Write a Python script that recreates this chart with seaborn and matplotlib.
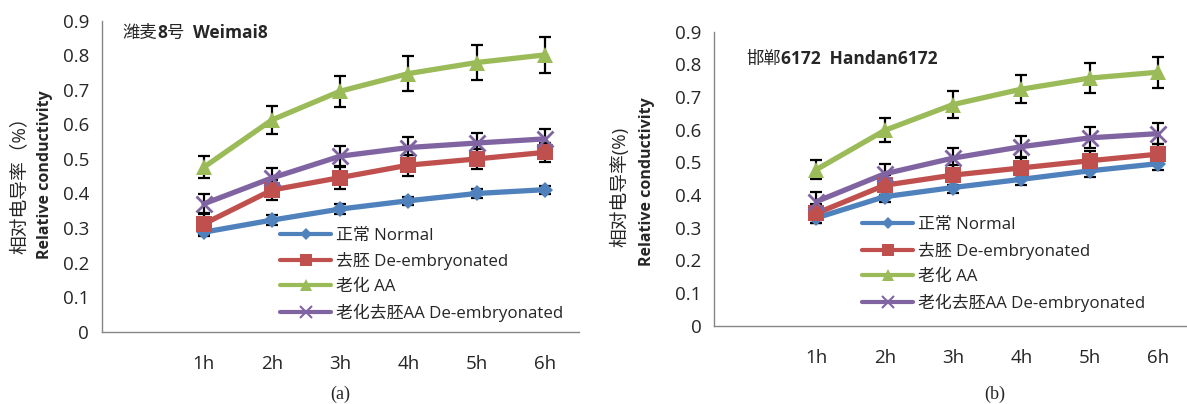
import numpy as np
import pandas as pd
import matplotlib
matplotlib.use("Agg")
import matplotlib.pyplot as plt
import seaborn as sns
from matplotlib.offsetbox import TextArea, HPacker, AnchoredOffsetbox

# --- data ---
hours = ["1h", "2h", "3h", "4h", "5h", "6h"]
series = ["正常 Normal", "去胚 De-embryonated", "老化 AA", "老化去胚AA De-embryonated"]

normal_a = [0.288, 0.323, 0.355, 0.379, 0.400, 0.411]
deemb_a = [0.312, 0.410, 0.446, 0.482, 0.500, 0.519]
aa_a = [0.476, 0.613, 0.696, 0.747, 0.779, 0.801]
aade_a = [0.370, 0.445, 0.508, 0.533, 0.546, 0.558]
err_normal_a = [0.012, 0.014, 0.014, 0.012, 0.012, 0.012]
err_deemb_a = [0.032, 0.030, 0.032, 0.030, 0.028, 0.028]
err_aa_a = [0.032, 0.040, 0.045, 0.050, 0.050, 0.052]
err_aade_a = [0.028, 0.028, 0.029, 0.030, 0.030, 0.030]

normal_b = [0.330, 0.395, 0.423, 0.448, 0.474, 0.496]
deemb_b = [0.344, 0.430, 0.461, 0.483, 0.505, 0.525]
aa_b = [0.478, 0.598, 0.677, 0.724, 0.758, 0.776]
aade_b = [0.380, 0.465, 0.513, 0.548, 0.575, 0.588]
err_normal_b = [0.015, 0.015, 0.018, 0.018, 0.020, 0.020]
err_deemb_b = [0.030, 0.030, 0.030, 0.030, 0.030, 0.030]
err_aa_b = [0.030, 0.037, 0.041, 0.043, 0.046, 0.048]
err_aade_b = [0.030, 0.030, 0.032, 0.033, 0.032, 0.033]

colors = ["#4F81BD", "#C0504D", "#9BBB59", "#8064A2"]
markers = ["D", "s", "^", "x"]
msizes = [8, 11, 12, 11]

CJK = ["Open Sans", "Noto Sans CJK SC", "DejaVu Sans"]

sns.set_style("white")
plt.rcParams["font.family"] = CJK


def long_df(vals, errs):
    rows = []
    for name, v, e in zip(series, vals, errs):
        for i, h in enumerate(hours):
            rows.append({"series": name, "pos": i + 1, "hour": h, "value": v[i], "err": e[i]})
    return pd.DataFrame(rows)


def draw_panel(ax, df, leg_anchor):
    # error bars behind the lines
    for name in series:
        d = df[df["series"] == name]
        ax.errorbar(d["pos"], d["value"], yerr=d["err"], fmt="none", ecolor="black",
                    elinewidth=1.6, capsize=4.5, capthick=1.6, zorder=1)
    sns.lineplot(data=df, x="pos", y="value", hue="series", hue_order=series,
                 palette=colors, ax=ax, legend=False, linewidth=3.8, zorder=2)
    for name, c, m, ms in zip(series, colors, markers, msizes):
        d = df[df["series"] == name]
        ax.plot(d["pos"], d["value"], linestyle="none", marker=m, color=c, ms=ms,
                mew=2 if m == "x" else 0, zorder=3)

    handles = [plt.Line2D([], [], color=c, lw=3, marker=m, ms=ms * 0.75,
                          mew=1.5 if m == "x" else 0)
               for c, m, ms in zip(colors, markers, msizes)]
    ax.legend(handles, series, loc="upper left", bbox_to_anchor=leg_anchor,
              frameon=False, fontsize=12.2, handlelength=3.0, handletextpad=0.3,
              labelspacing=0.52, borderpad=0, borderaxespad=0)

    ax.set_xlim(-0.5, 6.5)
    ax.set_ylim(0, 0.9)
    ax.set_yticks(np.arange(0, 0.91, 0.1))
    ax.set_yticklabels(["0"] + [f"{v:.1f}" for v in np.arange(0.1, 0.91, 0.1)])
    ax.set_xticks(np.arange(-0.5, 6.6, 1))
    ax.set_xticklabels([])
    ax.set_xticks(np.arange(1, 7), minor=True)
    ax.set_xticklabels(hours, minor=True)
    ax.tick_params(axis="x", which="minor", length=0, pad=17, labelsize=13.5)
    ax.tick_params(axis="x", which="major", length=5, width=1, color="#868686", direction="out")
    ax.tick_params(axis="y", length=5, width=1, color="#868686", direction="out", labelsize=13.5, pad=4)
    ax.set_xlabel("")
    ax.set_ylabel("")
    for s in ["top", "right"]:
        ax.spines[s].set_visible(False)
    for s in ["left", "bottom"]:
        ax.spines[s].set_color("#868686")
        ax.spines[s].set_linewidth(1)


def add_title(fig, parts, x, y):
    boxes = [TextArea(t, textprops=dict(fontsize=12.5, fontweight=w, family=CJK)) for t, w in parts]
    pack = HPacker(children=boxes, pad=0, sep=0, align="baseline")
    box = AnchoredOffsetbox(loc="center left", child=pack, pad=0, frameon=False,
                            bbox_to_anchor=(x, y), bbox_transform=fig.transFigure, borderpad=0)
    fig.add_artist(box)


fig = plt.figure(figsize=(11.87, 4.04), dpi=100)
W, H = 1187, 404
ax_a = fig.add_axes([101.5 / W, (H - 331.7) / H, (579 - 101.5) / W, (331.7 - 20.7) / H])
ax_b = fig.add_axes([714 / W, (H - 325.7) / H, (1192 - 714) / W, (325.7 - 31.7) / H])

df_a = long_df([normal_a, deemb_a, aa_a, aade_a], [err_normal_a, err_deemb_a, err_aa_a, err_aade_a])
df_b = long_df([normal_b, deemb_b, aa_b, aade_b], [err_normal_b, err_deemb_b, err_aa_b, err_aade_b])

draw_panel(ax_a, df_a, (0.374, 0.335))
draw_panel(ax_b, df_b, (0.31, 0.37))

add_title(fig, [("潍麦", "normal"), ("8", "bold"), ("号", "normal"), ("  Weimai8", "bold")],
          122.5 / W, (H - 33) / H)
add_title(fig, [("邯郸", "normal"), ("6172  Handan6172", "bold")], 746 / W, (H - 59) / H)

# two-line y labels
fig.text(20 / W, (H - 181) / H, "相对电导率（%）", rotation=90, ha="center", va="center", fontsize=13.5)
fig.text(45 / W, (H - 175) / H, "Relative conductivity", rotation=90, ha="center", va="center",
         fontsize=11.5, fontweight="bold")
fig.text(620 / W, (H - 187) / H, "相对电导率(%)", rotation=90, ha="center", va="center", fontsize=13.5)
fig.text(647 / W, (H - 182) / H, "Relative conductivity", rotation=90, ha="center", va="center",
         fontsize=11.5, fontweight="bold")

# panel captions
fig.text(340 / W, (H - 394) / H, "(a)", ha="center", va="center", fontsize=13, family="Liberation Serif")
fig.text(995 / W, (H - 394) / H, "(b)", ha="center", va="center", fontsize=13, family="Liberation Serif")

fig.savefig("out.png", dpi=100)
